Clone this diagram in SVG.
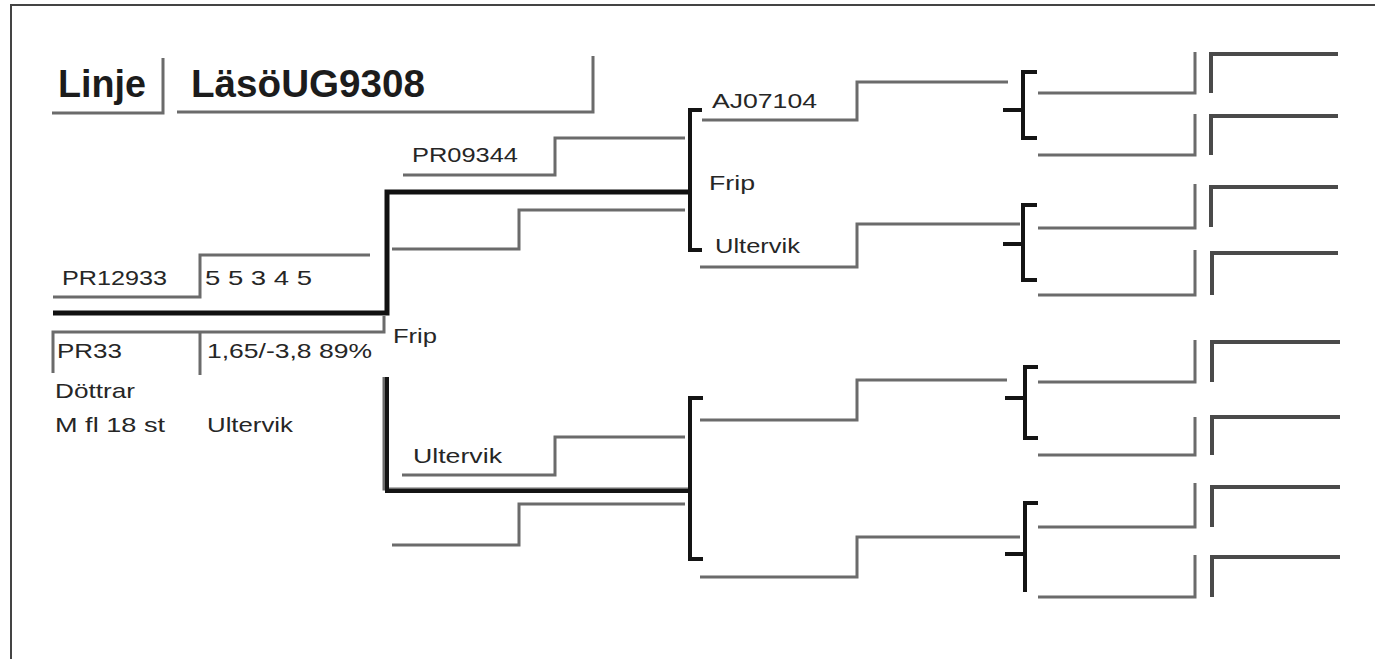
<svg xmlns="http://www.w3.org/2000/svg" width="1375" height="659" viewBox="0 0 1375 659">
<style>
.g{fill:none;stroke:#6b6b6b;stroke-width:3}
.d{fill:none;stroke:#4a4a4a;stroke-width:4}
.k{fill:none;stroke:#141414;stroke-width:4}
.kk{fill:none;stroke:#111;stroke-width:5}
.t{font-family:"Liberation Sans",Arial,sans-serif;font-size:21px;fill:#262626}
.h{font-family:"Liberation Sans",Arial,sans-serif;font-size:38px;font-weight:bold;fill:#1c1c1c}
</style>
<rect width="1375" height="659" fill="#fff"/>
<path d="M11,659 V5 H1375" fill="none" stroke="#444" stroke-width="2"/>
<g id="title">
<path class="g" d="M52,113 H163 V58"/>
<path class="g" d="M177,112 H593 V56"/>
<text class="h" x="58" y="97" textLength="88" lengthAdjust="spacingAndGlyphs">Linje</text>
<text class="h" x="191" y="97" textLength="234" lengthAdjust="spacingAndGlyphs">LäsöUG9308</text>
</g>
<g id="connectors">
<path class="kk" d="M53,313 H387 V192 H690"/>
<path class="g" d="M53,373 V332 H384 V316"/>
<path class="g" d="M200,332 V375"/>
<path class="g" d="M53,297 H200 V255 H370"/>
<path class="g" d="M384,377 V489 H688" stroke-width="2"/>
<path class="k" d="M387,377 V491 H690"/>
<path class="k" d="M702,110 H690 V250 H702"/>
<path class="k" d="M703,398 H690 V559 H703"/>
<path class="g" d="M403,175 H555 V138 H685"/>
<path class="g" d="M392,249 H519 V210 H685"/>
<path class="g" d="M402,475 H555 V437 H685"/>
<path class="g" d="M392,545 H519 V504 H685"/>
<path class="g" d="M702,120 H857 V82 H1008"/>
<path class="g" d="M700,267 H857 V224 H1020"/>
<path class="g" d="M700,420 H857 V380 H1007"/>
<path class="g" d="M700,577 H857 V537 H1020"/>
<path class="k" d="M1037,72 H1023 V138 H1037 M1003,110 H1023"/>
<path class="k" d="M1037,205 H1023 V280 H1037 M1003,244 H1023"/>
<path class="k" d="M1038,367 H1025 V438 H1038 M1005,398 H1025"/>
<path class="k" d="M1038,503 H1025 V592 M1005,554 H1025"/>
<path class="g" d="M1038,93 H1195 V52"/><path class="d" d="M1211,93 V54 H1338"/>
<path class="g" d="M1038,155 H1195 V114"/><path class="d" d="M1211,155 V116 H1338"/>
<path class="g" d="M1038,228 H1195 V184"/><path class="d" d="M1211,227 V187 H1338"/>
<path class="g" d="M1038,295 H1195 V250"/><path class="d" d="M1212,295 V253 H1338"/>
<path class="g" d="M1038,382 H1195 V340"/><path class="d" d="M1212,382 V342 H1340"/>
<path class="g" d="M1038,455 H1195 V417"/><path class="d" d="M1212,455 V417 H1340"/>
<path class="g" d="M1038,527 H1195 V483"/><path class="d" d="M1212,527 V487 H1340"/>
<path class="g" d="M1038,597 H1195 V555"/><path class="d" d="M1212,597 V557 H1340"/>
</g>
<g id="node-pr12933">
<text class="t" x="62" y="285" textLength="105" lengthAdjust="spacingAndGlyphs">PR12933</text>
<text class="t" x="205" y="285" textLength="107" lengthAdjust="spacingAndGlyphs">5 5 3 4 5</text>
<text class="t" x="57" y="358" textLength="65" lengthAdjust="spacingAndGlyphs">PR33</text>
<text class="t" x="207" y="358" textLength="165" lengthAdjust="spacingAndGlyphs">1,65/-3,8 89%</text>
<text class="t" x="55" y="398" textLength="80" lengthAdjust="spacingAndGlyphs">Döttrar</text>
<text class="t" x="55" y="432" textLength="110" lengthAdjust="spacingAndGlyphs">M fl 18 st</text>
<text class="t" x="207" y="432" textLength="86" lengthAdjust="spacingAndGlyphs" fill="#444">Ultervik</text>
</g>
<g id="node-frip-sire">
<text class="t" x="393" y="343" textLength="44" lengthAdjust="spacingAndGlyphs" fill="#444">Frip</text>
</g>
<g id="node-pr09344">
<text class="t" x="412" y="162" textLength="106" lengthAdjust="spacingAndGlyphs">PR09344</text>
</g>
<g id="node-ultervik-dam">
<text class="t" x="413" y="463" textLength="89" lengthAdjust="spacingAndGlyphs">Ultervik</text>
</g>
<g id="node-aj07104">
<text class="t" x="712" y="108" textLength="105" lengthAdjust="spacingAndGlyphs">AJ07104</text>
</g>
<g id="node-frip-2">
<text class="t" x="709" y="190" textLength="46" lengthAdjust="spacingAndGlyphs" fill="#444">Frip</text>
</g>
<g id="node-ultervik-2">
<text class="t" x="715" y="253" textLength="85" lengthAdjust="spacingAndGlyphs">Ultervik</text>
</g>
</svg>
